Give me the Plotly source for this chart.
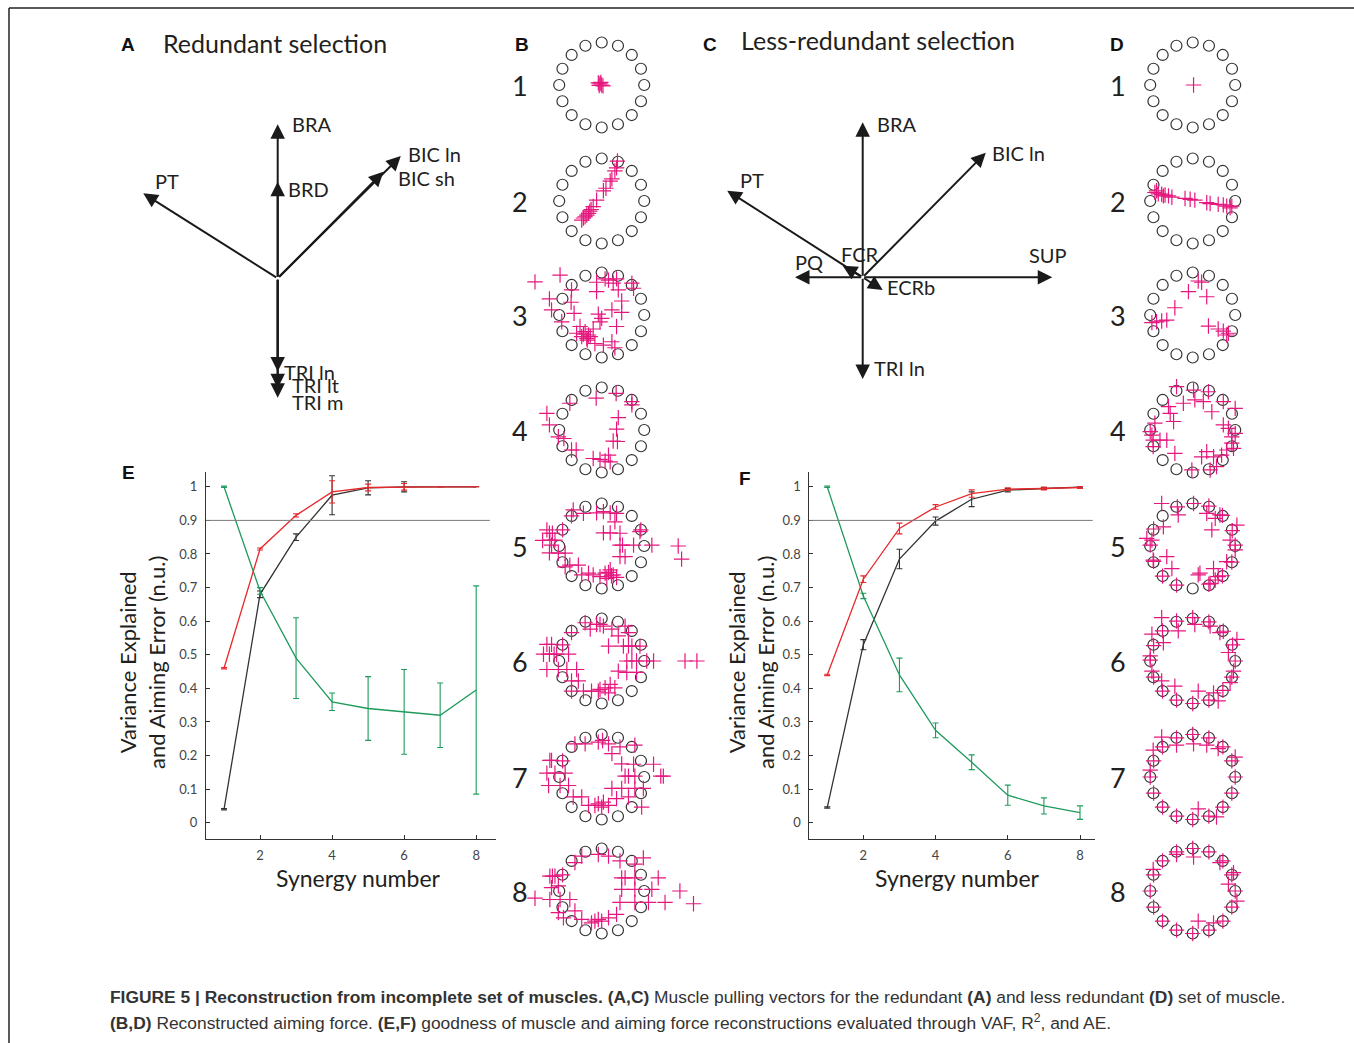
import plotly.graph_objects as go
import numpy as np

W, H = 1354, 1043

# ---------------- data: panels E and F ----------------
synergy = [1, 2, 3, 4, 5, 6, 7, 8]
E_vaf = [0.04, 0.68, 0.85, 0.975, 0.997, 1.0, 1.0, 1.0]
E_vaf_err = [0.002, 0.01, 0.01, 0.058, 0.021, 0.015, 0.0, 0.0]
E_r2 = [0.46, 0.815, 0.915, 0.985, 0.998, 1.0, 1.0, 1.0]
E_r2_err = [0.002, 0.003, 0.005, 0.033, 0.01, 0.01, 0.0, 0.0]
E_ae = [1.0, 0.69, 0.49, 0.36, 0.34, 0.33, 0.32, 0.395]
E_ae_err = [0.002, 0.01, 0.12, 0.026, 0.095, 0.126, 0.096, 0.31]

F_vaf = [0.045, 0.53, 0.785, 0.898, 0.963, 0.99, 0.995, 0.999]
F_vaf_err = [0.002, 0.015, 0.029, 0.012, 0.022, 0.005, 0.003, 0.002]
F_r2 = [0.44, 0.725, 0.876, 0.94, 0.98, 0.993, 0.995, 0.998]
F_r2_err = [0.002, 0.01, 0.016, 0.007, 0.011, 0.004, 0.004, 0.003]
F_ae = [1.0, 0.675, 0.44, 0.275, 0.18, 0.082, 0.05, 0.03]
F_ae_err = [0.002, 0.008, 0.05, 0.022, 0.022, 0.03, 0.024, 0.02]

y_ticks = [0, 0.1, 0.2, 0.3, 0.4, 0.5, 0.6, 0.7, 0.8, 0.9, 1]
y_ticktext = ["0", "0.1", "0.2", "0.3", "0.4", "0.5", "0.6", "0.7", "0.8", "0.9", "1"]
x_ticks = [2, 4, 6, 8]
threshold = 0.9

# ---------------- data: muscle pulling vectors (A, C) ----------------
A_muscles = ["BRA", "BRD", "PT", "BIC ln", "BIC sh", "TRI ln", "TRI lt", "TRI m"]
A_dx = [0.0, 0.0, -0.873, 0.799, 0.686, 0.0, 0.0, 0.0]
A_dy = [1.0, 0.627, 0.552, 0.794, 0.692, -0.606, -0.714, -0.775]

C_muscles = ["BRA", "BIC ln", "PT", "SUP", "PQ", "FCR", "ECRb", "TRI ln"]
C_dx = [0.0, 0.794, -0.874, 1.223, -0.437, -0.129, 0.129, 0.0]
C_dy = [1.0, 0.804, 0.559, 0.0, 0.0, 0.075, -0.082, -0.656]

# ---------------- data: targets and reconstructed aiming forces (B, D) ----------------
target_angles = [0, 22.5, 45, 67.5, 90, 112.5, 135, 157.5, 180,
                 202.5, 225, 247.5, 270, 292.5, 315, 337.5]
row_labels = ["1", "2", "3", "4", "5", "6", "7", "8"]

B1 = [(-0.08, 0.05), (-0.04, 0.03), (0.0, 0.0), (0.03, -0.02), (-0.06, -0.01), (-0.02, 0.06)]
B2 = [(0.37, 0.94), (0.31, 0.71), (0.35, 0.78), (0.20, 0.47), (0.24, 0.52), (0.04, 0.24),
      (-0.12, 0.02), (-0.2, -0.13), (-0.25, -0.2), (-0.31, -0.29), (-0.35, -0.33),
      (-0.39, -0.37), (-0.43, -0.40), (-0.47, -0.45), (-0.28, -0.24), (0.10, 0.30)]
B3 = [(-1.57, 0.78), (-0.98, 0.94), (-0.71, 0.59), (-1.23, 0.38), (-1.18, 0.12), (-0.72, 0.30),
      (-0.65, 0.04), (-0.94, -0.16), (-0.12, 0.77), (0.08, 0.85), (0.35, 0.85), (0.71, 0.75),
      (0.75, 0.63), (-0.12, 0.55), (0.39, 0.59), (0.47, 0.33), (0.24, 0.12), (0.47, 0.06),
      (-0.08, 0.02), (0.0, -0.08), (0.35, -0.27), (-0.51, -0.27), (-0.39, -0.39), (-0.31, -0.47),
      (-0.47, -0.51), (-0.27, -0.51), (-0.34, -0.59), (-0.20, -0.33), (-0.16, -0.67), (0.04, -0.71),
      (0.24, -0.63), (0.31, -0.77), (-0.59, -0.43), (-0.04, -0.16), (0.27, 0.75), (0.16, 0.82),
      (-0.43, -0.45), (-0.35, -0.55)]
B4 = [(-1.29, 0.39), (-1.23, 0.12), (-1.02, -0.16), (-0.89, -0.20), (-0.71, -0.47), (-0.60, -0.47),
      (-0.75, 0.63), (-0.13, 0.75), (0.34, 0.86), (0.71, 0.67), (0.39, 0.29), (0.35, 0.02),
      (0.37, -0.27), (0.27, -0.26), (-0.20, -0.67), (-0.04, -0.69), (0.08, -0.73), (0.16, -0.59),
      (0.20, -0.75), (0.71, 0.59)]
B5 = [(-1.29, 0.38), (-1.23, 0.30), (-1.39, 0.13), (-1.22, 0.14), (-1.10, 0.14), (-1.18, 0.02),
      (-1.23, -0.16), (-1.02, -0.17), (-0.86, -0.17), (-0.75, -0.45), (-0.55, -0.45), (-0.67, 0.85),
      (-0.43, 0.77), (-0.12, 0.78), (0.04, 0.81), (0.35, 0.77), (0.31, 0.57), (0.04, 0.31),
      (0.20, 0.31), (0.43, 0.30), (0.43, 0.02), (0.75, 0.02), (1.18, 0.02), (1.80, 0.0),
      (1.88, -0.31), (0.43, -0.25), (0.55, -0.25), (-0.47, -0.68), (-0.20, -0.68), (-0.04, -0.72),
      (0.08, -0.64), (0.20, -0.56), (0.27, -0.68), (0.35, -0.74), (0.12, -0.76), (0.90, 0.34),
      (-0.86, -0.49), (-0.31, -0.64), (-1.16, 0.30), (0.16, -0.62), (0.23, -0.70), (0.49, 0.02),
      (-0.92, 0.38), (0.92, 0.38), (-0.71, 0.71), (0.20, 0.78)]
B6 = [(-1.29, 0.39), (-1.18, 0.39), (-1.37, 0.16), (-1.23, 0.16), (-1.06, 0.16), (-0.78, 0.16),
      (-1.29, -0.20), (-1.02, -0.20), (-0.82, -0.20), (-0.59, -0.20), (-0.71, -0.47), (-0.55, -0.47),
      (-0.71, -0.71), (-0.43, -0.71), (-0.24, -0.71), (-0.04, -0.67), (0.20, -0.55), (0.31, -0.63),
      (0.16, -0.75), (-0.39, 0.90), (-0.12, 0.86), (0.04, 0.82), (0.24, 0.75), (0.55, 0.82),
      (0.63, 0.67), (0.16, 0.35), (0.51, 0.35), (0.71, 0.35), (0.90, 0.35), (0.59, 0.0),
      (0.82, 0.0), (1.06, 0.0), (1.22, 0.0), (0.39, -0.24), (0.59, -0.27), (0.82, -0.27),
      (1.96, 0.0), (2.24, 0.0), (0.39, 0.59), (-0.27, 0.75), (-0.71, 0.67), (-1.12, 0.16),
      (-0.08, -0.71), (0.08, -0.63), (0.63, 0.35), (-0.04, 0.86), (0.71, 0.0), (-0.92, 0.38)]
B7 = [(-1.18, 0.39), (-1.29, 0.09), (-1.10, 0.09), (-0.86, 0.09), (-1.25, -0.20), (-0.98, -0.20),
      (-0.78, -0.20), (-0.67, -0.47), (-0.47, -0.47), (-0.31, -0.67), (-0.16, -0.67), (0.0, -0.71),
      (0.16, -0.67), (0.35, -0.51), (0.63, -0.47), (0.94, -0.71), (-0.39, 0.78), (-0.08, 0.82),
      (0.16, 0.78), (0.43, 0.71), (0.78, 0.75), (0.47, 0.31), (0.75, 0.30), (1.22, 0.30),
      (0.55, 0.02), (0.78, 0.02), (1.45, 0.02), (0.24, -0.27), (0.47, -0.27), (0.78, -0.27),
      (0.98, -0.27), (-0.63, 0.78), (0.24, 0.55), (-1.22, 0.39), (-0.08, -0.63), (0.04, -0.59),
      (1.39, 0.02), (0.63, 0.02), (-0.92, 0.38), (0.02, 0.86)]
B8 = [(-1.57, -0.17), (-1.22, 0.35), (-1.10, 0.35), (-1.18, 0.08), (-1.02, 0.12), (-1.22, -0.20),
      (-0.98, -0.20), (-0.75, -0.20), (-1.02, -0.51), (-0.90, -0.63), (-0.63, -0.47), (-0.47, -0.67),
      (-0.24, -0.75), (0.0, -0.71), (0.16, -0.63), (0.35, -0.55), (-0.47, 0.82), (-0.08, 0.86),
      (0.16, 0.82), (0.43, 0.71), (0.98, 0.78), (0.47, 0.31), (0.78, 0.31), (1.33, 0.31),
      (0.47, 0.04), (0.78, 0.04), (1.18, 0.04), (0.43, -0.27), (0.78, -0.27), (1.10, -0.27),
      (1.49, -0.27), (1.84, 0.0), (2.16, -0.30), (-0.63, 0.67), (0.78, 0.63), (-0.16, -0.71),
      (-0.08, -0.67), (0.55, 0.31), (-1.16, 0.35), (-0.92, 0.38)]

D1 = [(0.02, 0.0)]
D2 = [(-0.89, 0.20), (-0.81, 0.17), (-0.73, 0.16), (-0.65, 0.14), (-0.57, 0.12), (-0.49, 0.09),
      (-0.18, 0.06), (-0.06, 0.04), (0.05, 0.02), (0.33, -0.04), (0.41, -0.06), (0.60, -0.08),
      (0.72, -0.09), (0.80, -0.12), (0.88, -0.16), (0.92, -0.12), (-0.85, 0.24), (-0.69, 0.12)]
D3 = [(-0.96, -0.18), (-0.85, -0.16), (-0.73, -0.14), (-0.61, -0.12), (-0.42, 0.17), (-0.10, 0.55),
      (0.13, 0.80), (0.21, 0.77), (0.33, 0.43), (0.37, -0.26), (0.60, -0.33), (0.72, -0.38),
      (0.80, -0.47), (0.84, -0.43)]
D4 = [(-0.38, 1.02), (0.02, 0.94), (0.37, 0.90), (-0.22, 0.63), (0.05, 0.71), (0.25, 0.67),
      (0.45, 0.43), (0.72, 0.67), (1.0, 0.51), (-0.57, 0.55), (-0.53, 0.39), (-0.45, 0.20),
      (-0.89, 0.16), (-1.0, -0.04), (-0.93, -0.24), (-0.77, -0.24), (-0.61, -0.24), (-0.93, -0.39),
      (-0.42, -0.55), (0.21, -0.63), (0.33, -0.51), (0.49, -0.63), (0.56, -0.86), (0.41, -0.94),
      (-0.02, -0.94), (0.72, 0.12), (0.84, 0.04), (0.92, -0.16), (0.92, -0.31), (0.80, -0.47),
      (0.68, -0.59), (1.0, -0.08), (0.96, -0.43), (-0.96, -0.12)]
D5 = [(-0.73, 1.0), (-0.69, 0.45), (-0.34, 0.73), (0.33, 0.77), (0.53, 0.65), (0.45, 0.38),
      (0.64, 0.73), (1.04, 0.49), (0.88, 0.14), (1.0, -0.09), (0.80, -0.37), (0.49, -0.53),
      (0.60, -0.72), (0.17, -0.64), (0.13, -0.68), (-0.49, -0.53), (-0.61, -0.25), (-0.93, -0.33),
      (-0.96, 0.14), (0.41, -0.88), (0.53, -0.80), (-1.08, 0.18),
      (1.0, 0.02), (0.93, 0.36), (0.70, 0.72), (0.38, 0.94), (0.02, 1.0), (-0.36, 0.92),
      (-0.92, 0.40), (-1.0, 0.02), (-0.92, -0.36), (-0.71, -0.71), (-0.38, -0.92), (0.38, -0.90),
      (0.70, -0.70), (0.92, -0.38)]
D6 = [(-0.73, 1.02), (-0.96, 0.63), (-0.69, 0.43), (-0.34, 0.71), (0.05, 0.86), (0.41, 0.82),
      (0.64, 0.67), (1.04, 0.51), (0.84, 0.20), (0.96, -0.24), (0.88, -0.51), (0.49, -0.75),
      (0.60, -0.94), (0.13, -0.71), (-0.42, -0.59), (-0.73, -0.47), (-0.96, -0.24), (-1.0, 0.12),
      (1.0, 0.0), (0.94, 0.38), (0.72, 0.70), (0.38, 0.92), (0.0, 1.02), (-0.38, 0.94),
      (-0.71, 0.71), (-0.92, 0.36), (-1.0, 0.02), (-0.92, -0.38), (-0.71, -0.71), (-0.38, -0.92),
      (0.0, -1.0), (0.38, -0.92), (0.71, -0.69), (0.92, -0.38)]
D7 = [(-0.73, 0.94), (-0.93, 0.63), (-1.0, 0.16), (-0.38, 0.75), (0.02, 0.78), (0.33, 0.75),
      (0.60, 0.67), (1.0, 0.47), (0.13, -0.75), (0.56, -0.94),
      (1.0, 0.0), (0.92, 0.38), (0.71, 0.71), (0.38, 0.92), (0.0, 1.0), (-0.38, 0.92),
      (-0.71, 0.71), (-0.92, 0.38), (-1.0, 0.0), (-0.92, -0.38), (-0.71, -0.71), (-0.38, -0.92),
      (0.0, -1.0), (0.38, -0.92), (0.71, -0.71), (0.92, -0.38)]
D8 = [(-0.93, 0.51), (0.84, 0.16), (0.96, 0.43), (0.13, -0.71), (0.49, -0.75), (0.02, 0.80),
      (-0.38, 0.86), (0.64, 0.67), (1.04, -0.24),
      (1.0, 0.0), (0.92, 0.38), (0.71, 0.71), (0.38, 0.92), (0.0, 1.0), (-0.38, 0.92),
      (-0.71, 0.71), (-0.92, 0.38), (-1.0, 0.0), (-0.92, -0.38), (-0.71, -0.71), (-0.38, -0.92),
      (0.0, -1.0), (0.38, -0.92), (0.71, -0.71), (0.92, -0.38)]

B_sets = [B1, B2, B3, B4, B5, B6, B7, B8]
D_sets = [D1, D2, D3, D4, D5, D6, D7, D8]

caption_1 = ("<b>FIGURE 5 | Reconstruction from incomplete set of muscles. (A,C)</b> Muscle pulling "
             "vectors for the redundant <b>(A)</b> and less redundant <b>(D)</b> set of muscle.")
caption_2 = ("<b>(B,D)</b> Reconstructed aiming force. <b>(E,F)</b> goodness of muscle and aiming "
             "force reconstructions evaluated through VAF, R<sup>2</sup>, and AE.")

# ---------------- styles / layout geometry (pixels) ----------------
FONT = "Lato, Open Sans, sans-serif"
BOLD_FONT = "Liberation Sans, Arial, sans-serif"
TXT = "#231f20"
RED, BLACK, GREEN = "#e8282b", "#333333", "#1e9a5c"
PINK = "#e5177e"

A_label_shift = {"BRA": (12, 0), "BRD": (8, -7), "PT": (10, 12), "BIC ln": (5, 2),
                 "BIC sh": (13, -6), "TRI ln": (4, 0), "TRI lt": (12, 3), "TRI m": (12, -4)}
C_label_shift = {"BRA": (12, -2), "BIC ln": (4, 0), "PT": (11, 11), "SUP": (-25, 22),
                 "PQ": (-2, 15), "FCR": (-4, 12), "ECRb": (2, 3), "TRI ln": (9, 11)}


def xd(a, b):
    return [a / W, b / W]


def yd(top, bottom):
    return [1 - bottom / H, 1 - top / H]


def px(x):
    return x / W


def py(y):
    return 1 - y / H


fig = go.Figure()
layout = {}
annotations = []
shapes = []

# ---------- E and F line charts ----------
chart_specs = [
    ("", "", E_vaf, E_vaf_err, E_r2, E_r2_err, E_ae, E_ae_err, (206, 496), [0.5, 8.55], 0.979),
    ("2", "2", F_vaf, F_vaf_err, F_r2, F_r2_err, F_ae, F_ae_err, (809.3, 1095), [0.504, 8.415], 0.992),
]
for sx, sy, vaf, vaf_e, r2, r2_e, ae, ae_e, xdom, xr, thr_end in chart_specs:
    xa, ya = "x" + sx, "y" + sy
    for vals, errs, col in [(vaf, vaf_e, BLACK), (ae, ae_e, GREEN), (r2, r2_e, RED)]:
        fig.add_trace(go.Scatter(
            x=synergy, y=vals, mode="lines", xaxis=xa, yaxis=ya,
            line=dict(color=col, width=1.3), showlegend=False,
            error_y=dict(type="data", array=errs, visible=True, color=col, thickness=1.1, width=3),
        ))
    layout["xaxis" + sx] = dict(
        domain=xd(*xdom), range=xr, anchor=ya, showline=True, linecolor="#333", linewidth=1,
        ticks="inside", ticklen=4, tickcolor="#333", tickvals=x_ticks, showgrid=False,
        zeroline=False, tickfont=dict(family=FONT, size=13, color="#444"), ticklabelstandoff=4,
    )
    layout["yaxis" + sy] = dict(
        domain=yd(471.7, 839), range=[-0.0485, 1.045], anchor=xa, showline=True,
        linecolor="#333", linewidth=1, ticks="inside", ticklen=4, tickcolor="#333",
        tickvals=y_ticks, ticktext=y_ticktext, showgrid=False, zeroline=False,
        tickfont=dict(family=FONT, size=13, color="#444"), ticklabelstandoff=5,
    )
    shapes.append(dict(type="line", xref=xa + " domain", yref=ya, x0=0, x1=thr_end,
                       y0=threshold, y1=threshold, line=dict(color="#7a7a7a", width=1)))

# axis titles as annotations
for cx, cy_title in [(142, 358), (751, 957)]:
    annotations.append(dict(x=px(cx), y=py(663), xref="paper", yref="paper", showarrow=False,
                            text="Variance Explained<br>and Aiming Error (n.u.)", textangle=-90,
                            font=dict(family=FONT, size=22, color=TXT), xanchor="center",
                            yanchor="middle"))
    annotations.append(dict(x=px(cy_title), y=py(878), xref="paper", yref="paper", showarrow=False,
                            text="Synergy number", font=dict(family=FONT, size=23, color=TXT),
                            xanchor="center", yanchor="middle"))

# ---------- A and C vector diagrams ----------
vec_specs = [
    ("3", A_muscles, A_dx, A_dy, A_label_shift, (130, 430), (100, 420), 277.7, 278.3, 154.0),
    ("4", C_muscles, C_dx, C_dy, C_label_shift, (715, 1065), (100, 420), 862.7, 277.3, 155.0),
]
for n, names, dxs, dys, shifts, xdom, ydom, ox, oy, scale in vec_specs:
    layout["xaxis" + n] = dict(domain=xd(*xdom), visible=False, anchor="y" + n,
                               range=[(xdom[0] - ox) / scale, (xdom[1] - ox) / scale])
    layout["yaxis" + n] = dict(domain=yd(*ydom), visible=False, anchor="x" + n,
                               range=[(oy - ydom[1]) / scale, (oy - ydom[0]) / scale])
    for name, dx, dy in zip(names, dxs, dys):
        annotations.append(dict(x=dx, y=dy, ax=0, ay=0, xref="x" + n, yref="y" + n,
                                axref="x" + n, ayref="y" + n, text="", showarrow=True,
                                arrowhead=2, arrowsize=1.45, arrowwidth=2.0, arrowcolor="#1a1a1a",
                                standoff=0, startstandoff=0))
        sxh, syh = shifts[name]
        annotations.append(dict(x=dx, y=dy, xref="x" + n, yref="y" + n, text=name,
                                showarrow=False, xanchor="left", yanchor="middle",
                                xshift=sxh, yshift=syh,
                                font=dict(family=FONT, size=20, color=TXT)))

# ---------- B and D target rings ----------
row_centers = [85, 201, 315, 430, 546, 661, 777, 891]
unit = 42.5
half_w, half_h = 2.6, 1.35
ang = np.deg2rad(np.array(target_angles))
tx, ty = np.cos(ang), np.sin(ang)
axis_n = 5
for col_cx, label_x, sets in [(601.7, 520, B_sets), (1192.7, 1118, D_sets)]:
    for r, (cy, pts) in enumerate(zip(row_centers, sets)):
        n = str(axis_n)
        layout["xaxis" + n] = dict(domain=xd(col_cx - half_w * unit, col_cx + half_w * unit),
                                   range=[-half_w, half_w], visible=False, anchor="y" + n)
        layout["yaxis" + n] = dict(domain=yd(cy - half_h * unit, cy + half_h * unit),
                                   range=[-half_h, half_h], visible=False, anchor="x" + n)
        fig.add_trace(go.Scatter(x=tx, y=ty, mode="markers", xaxis="x" + n, yaxis="y" + n,
                                 marker=dict(symbol="circle-open", size=11, color="#333",
                                             line=dict(width=1.2)),
                                 showlegend=False, cliponaxis=False))
        fig.add_trace(go.Scatter(x=[p[0] for p in pts], y=[p[1] for p in pts], mode="markers",
                                 xaxis="x" + n, yaxis="y" + n,
                                 marker=dict(symbol="cross-thin", size=11,
                                             line=dict(width=1.2, color=PINK)),
                                 showlegend=False, cliponaxis=False))
        annotations.append(dict(x=px(label_x), y=py(cy), xref="paper", yref="paper",
                                text=row_labels[r], showarrow=False, xanchor="center",
                                yanchor="middle", font=dict(family=FONT, size=27, color=TXT)))
        axis_n += 1

# ---------- panel letters and titles ----------
for letter, lx, ly in [("A", 128, 45), ("B", 521.7, 45), ("C", 710, 45), ("D", 1116.7, 45),
                       ("E", 128, 473), ("F", 745, 478)]:
    annotations.append(dict(x=px(lx), y=py(ly), xref="paper", yref="paper", text="<b>%s</b>" % letter,
                            showarrow=False, xanchor="center", yanchor="middle",
                            font=dict(family=BOLD_FONT, size=19, color="#111")))
annotations.append(dict(x=px(161), y=py(43), xref="paper", yref="paper", text="Redundant selection",
                        showarrow=False, xanchor="left", yanchor="middle",
                        font=dict(family=FONT, size=25, color=TXT)))
annotations.append(dict(x=px(739), y=py(40), xref="paper", yref="paper",
                        text="Less-redundant selection", showarrow=False, xanchor="left",
                        yanchor="middle", font=dict(family=FONT, size=25, color=TXT)))

# ---------- caption ----------
for txt, cyy in [(caption_1, 997), (caption_2, 1022)]:
    annotations.append(dict(x=px(108), y=py(cyy), xref="paper", yref="paper", text=txt,
                            showarrow=False, xanchor="left", yanchor="middle",
                            font=dict(family="Liberation Sans, Arial, sans-serif", size=17.4,
                                      color="#333")))

# ---------- frame ----------
shapes.append(dict(type="line", xref="paper", yref="paper", x0=px(9), x1=1.0, y0=py(8), y1=py(8),
                   line=dict(color="#222", width=1.5)))
shapes.append(dict(type="line", xref="paper", yref="paper", x0=px(9), x1=px(9), y0=py(8), y1=0,
                   line=dict(color="#222", width=1.5)))

fig.update_layout(
    width=W, height=H, margin=dict(l=0, r=0, t=0, b=0),
    paper_bgcolor="white", plot_bgcolor="rgba(0,0,0,0)",
    showlegend=False, annotations=annotations, shapes=shapes,
    **layout,
)
fig.write_html("out.html", config={"displayModeBar": False},
               post_script="document.body.style.margin='0';document.body.style.padding='0';")
